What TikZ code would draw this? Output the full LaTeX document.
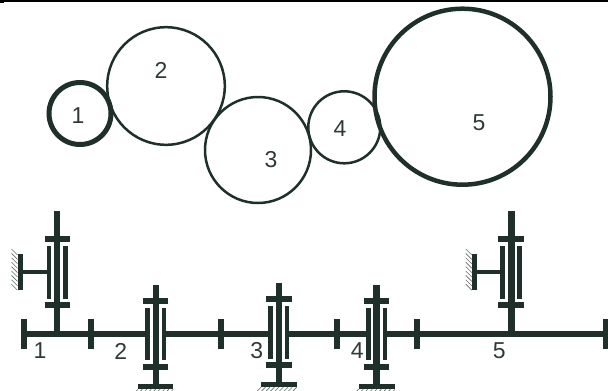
\documentclass[tikz,border=0pt]{standalone}
\usepackage{fontspec}
\setmainfont{Liberation Sans}
\definecolor{ink}{HTML}{1F302B}
\definecolor{numink}{HTML}{2F3A37}
\tikzset{
  wheel/.style={draw=ink,fill=none},
  num/.style={text=numink,font=\fontsize{23}{23}\selectfont,inner sep=0pt},
  bar/.style={draw=ink,line width=6pt,line cap=butt},
  sleeve/.style={draw=ink,line width=4.7pt,line cap=butt},
  link/.style={draw=ink,line width=3.5pt,line cap=butt},
  hatch/.style={draw=ink!70,line width=0.6pt}
}
% unit: #1 shaft x, #2 top, #3 upper bar y, #4 lower bar y, #5 bottom of shaft, #6 half bar, #7 shaft width
\newcommand{\bearingunit}[7]{
  \draw[bar,line width=#7pt] (#1,#2) -- (#1,#5);
  \draw[bar] ({#1-#6},#3) -- ({#1+#6},#3);
  \draw[bar] ({#1-#6},#4) -- ({#1+#6},#4);
  \draw[sleeve] ({#1-8.3},{#3+6.8}) -- ({#1-8.3},{#4-6.8});
  \draw[sleeve] ({#1+8.3},{#3+6.8}) -- ({#1+8.3},{#4-6.8});
}
% ground below: #1 left, #2 right, #3 y
\newcommand{\groundbelow}[3]{
  \draw[draw=ink,line width=5pt] (#1,#3) -- (#2,#3);
  \foreach \hx in {0,1,...,8}{
    \draw[hatch] ({#1+\hx*(#2-#1)/8},{#3+2.5}) -- ({#1+\hx*(#2-#1)/8-4.5},{#3+7});
  }
}
% ground left: #1 x, #2 shaft link end x
\newcommand{\groundleft}[2]{
  \draw[link] (#1,272) -- (#2,272);
  \draw[draw=ink,line width=5pt] (#1,254) -- (#1,290);
  \foreach \hy in {0,1,...,8}{
    \draw[hatch] ({#1-2.5},{255+\hy*4.4}) -- ({#1-8.5},{249+\hy*4.4});
  }
}
\begin{document}
\begin{tikzpicture}[x=1pt,y=-1pt]
\useasboundingbox (0,0) rectangle (608,391);
\fill[white] (0,0) rectangle (608,391);
% top rule
\draw[black,line width=1.5pt] (0,1) -- (608,1);
\draw[black,line width=1pt] (0,2.5) -- (4,2.5);
% wheels
\draw[wheel,line width=5pt] (80,113.5) circle[radius=31];
\draw[wheel,line width=2.5pt] (166,86) circle[radius=58.8];
\draw[wheel,line width=2.5pt] (258,150) circle[radius=53];
\draw[wheel,line width=2.5pt] (344.3,127.3) circle[radius=36];
\draw[wheel,line width=4.5pt] (462.5,96.7) circle[radius=88];
\node[num] (w1) at (78,116) {1};
\node[num] (w2) at (161,70.5) {2};
\node[num] (w3) at (271,160) {3};
\node[num] (w4) at (340,129) {4};
\node[num] (w5) at (479,123) {5};
% main shaft
\draw[bar] (23,333.7) -- (145.5,333.7);
\draw[bar] (165.5,333.7) -- (269,333.7);
\draw[bar] (289,333.7) -- (367,333.7);
\draw[bar] (387,333.7) -- (608,333.7);
% collars
\foreach \cx in {23.5,90.7,220.7,337,417,605.5}{
  \draw[bar] (\cx,319) -- (\cx,348.5);
}
% upper units with fixed supports
\bearingunit{57.3}{211}{239.3}{305.3}{333.7}{12.8}{6}
\groundleft{20}{46.5}
\bearingunit{511}{211}{239.3}{305.3}{333.7}{12.8}{7}
\groundleft{474.3}{501}
% lower units
\bearingunit{155.7}{285}{301.3}{366.7}{385}{12.7}{6}
\groundbelow{138}{173.3}{386.7}
\bearingunit{278.7}{283.3}{299.3}{365.3}{383}{12.8}{6}
\groundbelow{261}{296.7}{384.7}
\bearingunit{376.7}{284.7}{301.3}{367}{385}{12.5}{7}
\groundbelow{358.7}{395}{386.7}
% shaft numbers
\node[num] (s1) at (40,350.7) {1};
\node[num] (s2) at (120.7,351) {2};
\node[num] (s3) at (256.7,350.7) {3};
\node[num] (s4) at (357.3,350.7) {4};
\node[num] (s5) at (499.3,350.7) {5};
\end{tikzpicture}
\end{document}
